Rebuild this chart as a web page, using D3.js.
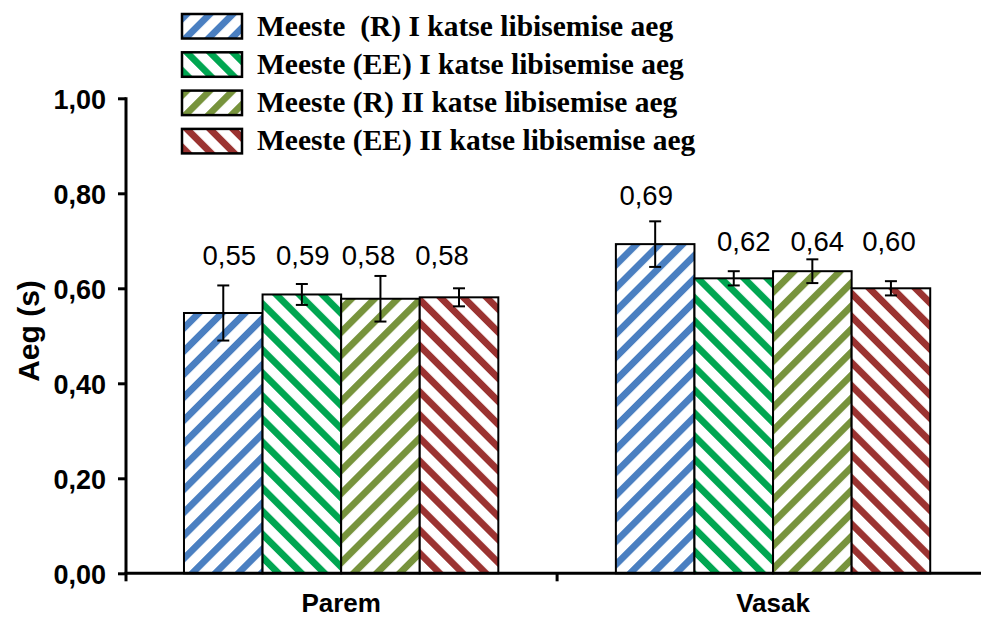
<!DOCTYPE html>
<html>
<head>
<meta charset="utf-8">
<script src="https://cdn.jsdelivr.net/npm/d3@7"></script>
<style>
  html, body { margin: 0; padding: 0; background: #fff; }
  svg { display: block; }
</style>
</head>
<body>
<svg id="chart" width="981" height="617"></svg>
<script>
// ---- data ----
const categories = ["Parem", "Vasak"];
const seriesNames = [
  "Meeste  (R) I katse libisemise aeg",
  "Meeste (EE) I katse libisemise aeg",
  "Meeste (R) II katse libisemise aeg",
  "Meeste (EE) II katse libisemise aeg"
];
// mean per series, one value per category
const meansR1  = [0.548, 0.693];
const meansEE1 = [0.587, 0.621];
const meansR2  = [0.578, 0.636];
const meansEE2 = [0.581, 0.600];
// error (± half-range) per series
const errR1  = [0.058, 0.048];
const errEE1 = [0.022, 0.015];
const errR2  = [0.048, 0.025];
const errEE2 = [0.019, 0.015];
const yTicks = [0, 0.2, 0.4, 0.6, 0.8, 1.0];

// ---- styling ----
const stripeColors = ["#4a7fc1", "#00a651", "#77933c", "#9b3331"];
const stripeAngle  = [45, -45, 45, -45];
// value label nudges (pixels) relative to the bar centre / bar top
const labelNudge = [
  [[6, -48], [-9, -39]],
  [[1, -29.5], [10, -27.3]],
  [[-12, -33.7], [5, -20.2]],
  [[-17, -32.3], [-2, -37.3]]
];

const means = [meansR1, meansEE1, meansR2, meansEE2];
const errs  = [errR1, errEE1, errR2, errEE2];

const svg = d3.select("#chart");
const yTop = 98.3, yBottom = 573.3, xLeft = 126, xRight = 989;

const y = d3.scaleLinear().domain([0, 1]).range([yBottom, yTop]);
const x0 = d3.scaleBand().domain(categories).range([xLeft - 0.8, xRight]).padding(0);
const x1 = d3.scaleBand().domain(d3.range(seriesNames.length))
  .range([0, x0.bandwidth()]).paddingInner(0).paddingOuter(0.748);

const fmt = v => v.toFixed(2).replace(".", ",");

// stripe patterns
const defs = svg.append("defs");
stripeColors.forEach((c, i) => {
  const p = defs.append("pattern")
    .attr("id", "stripe" + i)
    .attr("patternUnits", "userSpaceOnUse")
    .attr("width", 16.3).attr("height", 16.3)
    .attr("patternTransform", `rotate(${stripeAngle[i]})`);
  p.append("rect").attr("width", 16.3).attr("height", 16.3).attr("fill", "#fff");
  p.append("rect").attr("x", 0).attr("width", 6.8).attr("height", 16.3).attr("fill", c);
});

// flatten into bar records
const bars = [];
means.forEach((arr, s) => arr.forEach((v, c) => {
  bars.push({ s, c, cat: categories[c], v, e: errs[s][c] });
}));

const g = svg.append("g");

// bars
g.selectAll("rect.bar").data(bars).join("rect")
  .attr("class", "bar")
  .attr("x", d => x0(d.cat) + x1(d.s))
  .attr("y", d => y(d.v))
  .attr("width", x1.bandwidth())
  .attr("height", d => y(0) - y(d.v))
  .attr("fill", d => `url(#stripe${d.s})`)
  .attr("stroke", "#000")
  .attr("stroke-width", 2);

// error bars
const eb = g.selectAll("g.err").data(bars).join("g").attr("class", "err")
  .attr("transform", d => `translate(${x0(d.cat) + x1(d.s) + x1.bandwidth() / 2},0)`);
eb.append("line")
  .attr("y1", d => y(d.v + d.e)).attr("y2", d => y(d.v - d.e))
  .attr("stroke", "#000").attr("stroke-width", 2);
eb.selectAll("line.cap").data(d => [d.v + d.e, d.v - d.e]).join("line")
  .attr("class", "cap")
  .attr("x1", -6).attr("x2", 6)
  .attr("y1", v => y(v)).attr("y2", v => y(v))
  .attr("stroke", "#000").attr("stroke-width", 2);

// value labels
g.selectAll("text.val").data(bars).join("text")
  .attr("class", "val")
  .attr("x", d => x0(d.cat) + x1(d.s) + x1.bandwidth() / 2 + labelNudge[d.s][d.c][0])
  .attr("y", d => y(d.v) + labelNudge[d.s][d.c][1])
  .attr("text-anchor", "middle")
  .attr("font-family", "Liberation Sans, Arial, sans-serif")
  .attr("font-size", 27.5)
  .attr("fill", "#000")
  .text(d => fmt(d.v));

// y axis
const yAxis = d3.axisLeft(y).tickValues(yTicks).tickSize(8).tickPadding(12)
  .tickFormat(fmt);
const ya = svg.append("g").attr("transform", `translate(${xLeft},0)`).call(yAxis);
ya.select(".domain").attr("stroke-width", 3).attr("d", `M0,${yTop - 1}V${yBottom + 1}`);
ya.selectAll(".tick line").attr("stroke-width", 3);
ya.selectAll(".tick text")
  .attr("font-family", "Liberation Sans, Arial, sans-serif")
  .attr("font-weight", "bold").attr("font-size", 27).attr("fill", "#000")
  .attr("dy", "0.36em");

// x axis
const xAxis = d3.axisBottom(x0).tickSize(0).tickPadding(20);
const xa = svg.append("g").attr("transform", `translate(0,${yBottom})`).call(xAxis);
xa.select(".domain").attr("stroke-width", 3).attr("d", `M${xLeft - 1.5},0H${xRight}`);
xa.selectAll(".tick text")
  .attr("font-family", "Liberation Sans, Arial, sans-serif")
  .attr("font-weight", "bold").attr("font-size", 26).attr("fill", "#000")
  .attr("y", 0).attr("dy", "1.47em");
// boundary ticks between categories
const bounds = categories.map(c => x0(c)).concat([x0(categories[categories.length - 1]) + x0.bandwidth()]);
xa.selectAll("line.bound").data(bounds).join("line")
  .attr("class", "bound")
  .attr("x1", d => Math.max(d, xLeft)).attr("x2", d => Math.max(d, xLeft))
  .attr("y1", 0).attr("y2", 8)
  .attr("stroke", "#000").attr("stroke-width", 3);

// y axis title
svg.append("text")
  .attr("transform", "translate(39,331) rotate(-90)")
  .attr("text-anchor", "middle")
  .attr("font-family", "Liberation Sans, Arial, sans-serif")
  .attr("font-weight", "bold").attr("font-size", 30).attr("fill", "#000")
  .text("Aeg (s)");

// legend
const lg = svg.append("g").attr("transform", "translate(182,14)");
const items = lg.selectAll("g").data(seriesNames).join("g")
  .attr("transform", (d, i) => `translate(0,${i * 38.3})`);
items.append("rect")
  .attr("width", 60).attr("height", 24.5)
  .attr("fill", (d, i) => `url(#stripe${i})`)
  .attr("stroke", "#000").attr("stroke-width", 2.5);
items.append("text")
  .attr("x", 75).attr("y", 21.5)
  .attr("font-family", "Liberation Serif, Times New Roman, serif")
  .attr("font-weight", "bold").attr("font-size", 29.5).attr("fill", "#000")
  .style("white-space", "pre")
  .text(d => d);
</script>
</body>
</html>
